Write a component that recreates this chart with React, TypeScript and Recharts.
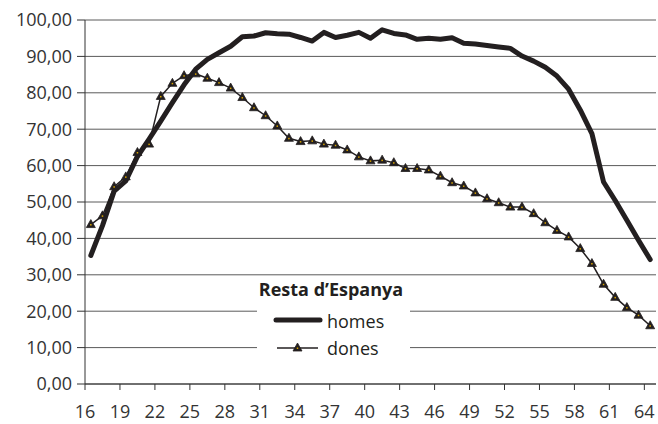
import React from "react";
import { LineChart, Line, XAxis, YAxis, CartesianGrid, Legend } from "recharts";

const ages: number[] = [
  16, 17, 18, 19, 20, 21, 22, 23, 24, 25, 26, 27, 28, 29, 30, 31, 32, 33, 34, 35,
  36, 37, 38, 39, 40, 41, 42, 43, 44, 45, 46, 47, 48, 49, 50, 51, 52, 53, 54, 55,
  56, 57, 58, 59, 60, 61, 62, 63, 64,
];

const homes: number[] = [
  35.3, 43.5, 53.0, 55.8, 62.5, 67.3, 72.2, 77.3, 82.2, 86.5, 89.2, 91.0, 92.8, 95.4, 95.6,
  96.5, 96.2, 96.1, 95.2, 94.2, 96.6, 95.2, 95.8, 96.6, 95.0, 97.3, 96.3, 95.9, 94.7, 95.0,
  94.7, 95.1, 93.6, 93.4, 93.0, 92.6, 92.2, 90.1, 88.7, 87.0, 84.6, 81.0, 75.3, 68.8, 55.5,
  50.4, 45.0, 39.5, 34.2,
];

const dones: number[] = [
  43.8, 46.2, 54.2, 56.9, 63.6, 65.9, 79.0, 82.6, 84.7, 85.2, 84.0, 82.8, 81.3, 78.7, 75.9,
  73.7, 70.9, 67.5, 66.6, 66.8, 65.9, 65.6, 64.3, 62.4, 61.3, 61.5, 60.8, 59.2, 59.2, 58.8,
  57.1, 55.3, 54.4, 52.5, 50.9, 49.8, 48.6, 48.6, 46.8, 44.3, 42.2, 40.4, 37.2, 33.1, 27.4,
  23.8, 21.0, 18.9, 16.0,
];

const xTickLabels: number[] = [16, 19, 22, 25, 28, 31, 34, 37, 40, 43, 46, 49, 52, 55, 58, 61, 64];
const yTicks: number[] = [0, 10, 20, 30, 40, 50, 60, 70, 80, 90, 100];
const legendTitle = "Resta d\u2019Espanya";

const data = ages.map((a, i) => ({ age: a, homes: homes[i], dones: dones[i] }));
// category boundaries (tick marks sit between categories, labels at the marks)
const xTicks = xTickLabels.map((v) => v - 0.5);

const FONT = "'Open Sans', 'Noto Sans', sans-serif";
const INK = "#231f20";

const TriDot = (props: any) => {
  const { cx, cy } = props;
  if (cx == null || cy == null) return null;
  return (
    <g>
      <path
        d={`M${cx},${cy - 5} L${cx + 4.5},${cy + 3} L${cx - 4.5},${cy + 3} Z`}
        fill={INK}
        stroke={INK}
        strokeWidth={0.8}
        strokeLinejoin="round"
      />
      <rect x={cx - 0.75} y={cy - 0.5} width={1.5} height={1.5} fill="#d9a400" />
    </g>
  );
};

const LegendBox = () => (
  <svg width={170} height={90} style={{ display: "block", overflow: "visible" }}>
    <rect x={9} y={24} width={153} height={60} fill="#ffffff" />
    <text
      x={83}
      y={18}
      textAnchor="middle"
      fontFamily={FONT}
      fontWeight="bold"
      fontSize={18}
      fill={INK}
    >
      {legendTitle}
    </text>
    <line x1={28} y1={42} x2={72} y2={42} stroke={INK} strokeWidth={5} strokeLinecap="round" />
    <text x={79} y={50} fontFamily={FONT} fontSize={18} fill={INK}>
      homes
    </text>
    <line x1={29} y1={70} x2={70} y2={70} stroke={INK} strokeWidth={1.5} />
    <TriDot cx={49.5} cy={70} />
    <text x={79} y={77} fontFamily={FONT} fontSize={18} fill={INK}>
      dones
    </text>
  </svg>
);

export default function App() {
  return (
    <div style={{ position: "absolute", left: 0, top: 0, width: 658, height: 424, background: "#fff" }}>
      <LineChart
        width={658}
        height={424}
        data={data}
        margin={{ top: 20, right: 2, bottom: 0, left: 0 }}
      >
        <CartesianGrid horizontal={true} vertical={false} stroke="#5a5a5a" strokeWidth={1} />
        <XAxis
          dataKey="age"
          type="number"
          domain={[15.5, 64.5]}
          ticks={xTicks}
          interval={0}
          tickFormatter={(v: number) => String(Math.round(v + 0.5))}
          height={40}
          tickSize={6}
          tickMargin={15}
          axisLine={{ stroke: "#333" }}
          tickLine={{ stroke: "#333" }}
          tick={{ fontFamily: FONT, fontSize: 18, fill: "#333" }}
        />
        <YAxis
          type="number"
          domain={[0, 100]}
          ticks={yTicks}
          interval={0}
          width={85}
          tickSize={8}
          tickMargin={5}
          tickFormatter={(v: number) => v.toFixed(2).replace(".", ",")}
          axisLine={{ stroke: "#333" }}
          tickLine={{ stroke: "#333" }}
          tick={{ fontFamily: FONT, fontSize: 18, fill: "#333" }}
        />
        <Line
          dataKey="homes"
          name="homes"
          stroke={INK}
          strokeWidth={5}
          strokeLinejoin="round"
          strokeLinecap="round"
          dot={false}
          activeDot={false}
          isAnimationActive={false}
        />
        <Line
          dataKey="dones"
          name="dones"
          stroke={INK}
          strokeWidth={1.5}
          dot={<TriDot />}
          activeDot={false}
          isAnimationActive={false}
        />
        <Legend
          layout="horizontal"
          align="center"
          verticalAlign="middle"
          content={() => <LegendBox />}
          wrapperStyle={{ position: "absolute", left: 248, top: 278, width: 170, height: 90 }}
        />
      </LineChart>
    </div>
  );
}
